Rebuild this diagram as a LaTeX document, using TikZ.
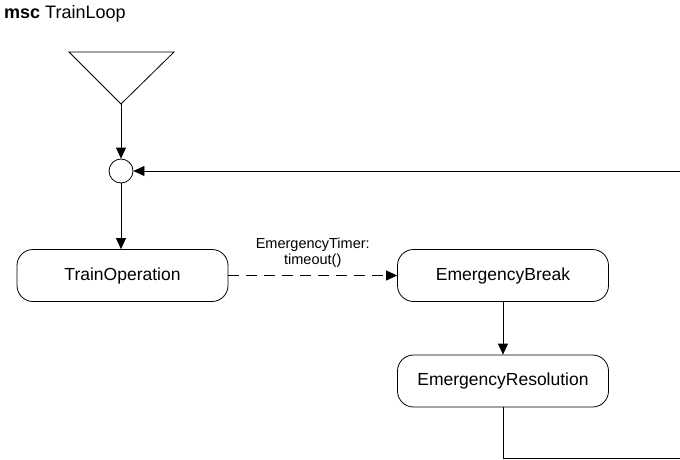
\documentclass[tikz,border=0pt]{standalone}
\usepackage{fontspec}
\setmainfont{Liberation Sans}
\usetikzlibrary{arrows.meta}
\begin{document}
\begin{tikzpicture}[x=1pt,y=-1pt,
  state/.style={draw, line width=0.8pt, rounded corners=16pt, minimum width=211pt,
    minimum height=52pt, inner sep=0pt, font=\fontsize{17.5}{19}\selectfont},
  flow/.style={line width=0.8pt, -{Triangle[length=11pt,width=10pt]}},
  wire/.style={line width=0.8pt}]
  \useasboundingbox (0,0) rectangle (680,460);
  \clip (0,0) rectangle (680,460);

  % title
  \node[anchor=base west, inner sep=0pt, font=\fontsize{18}{20}\selectfont]
    (title) at (4,19) {\textbf{msc} TrainLoop};

  % start symbol and merge point
  \draw[wire] (69,52) -- (174,52) -- (121,104) -- cycle;
  \coordinate (apex) at (121,104);
  \node[draw, circle, line width=0.8pt, minimum size=24pt, inner sep=0pt] (merge) at (121,171) {};

  % states
  \node[state] (op) at (122.5,275.5) {TrainOperation};
  \node[state] (brk) at (503,275.5) {EmergencyBreak};
  \node[state] (res) at (503,381) {EmergencyResolution};

  % transitions
  \draw[flow] (apex) -- (merge);
  \draw[flow] (merge) -- (merge |- op.north);
  \draw[flow, line width=1pt, dash pattern=on 11pt off 7pt] (op) -- (brk)
    node[midway, above=4pt, align=center, font=\fontsize{14.5}{16.5}\selectfont]
    (lbl) {EmergencyTimer:\\timeout()};
  \draw[flow] (brk) -- (res);

  % loop back to the merge point
  \coordinate (c1) at (503,458);
  \coordinate (c2) at (690,458);
  \coordinate (c3) at (690,171);
  \draw[flow] (res) -- (c1) -- (c2) -- (c3) -- (merge);
\end{tikzpicture}
\end{document}
